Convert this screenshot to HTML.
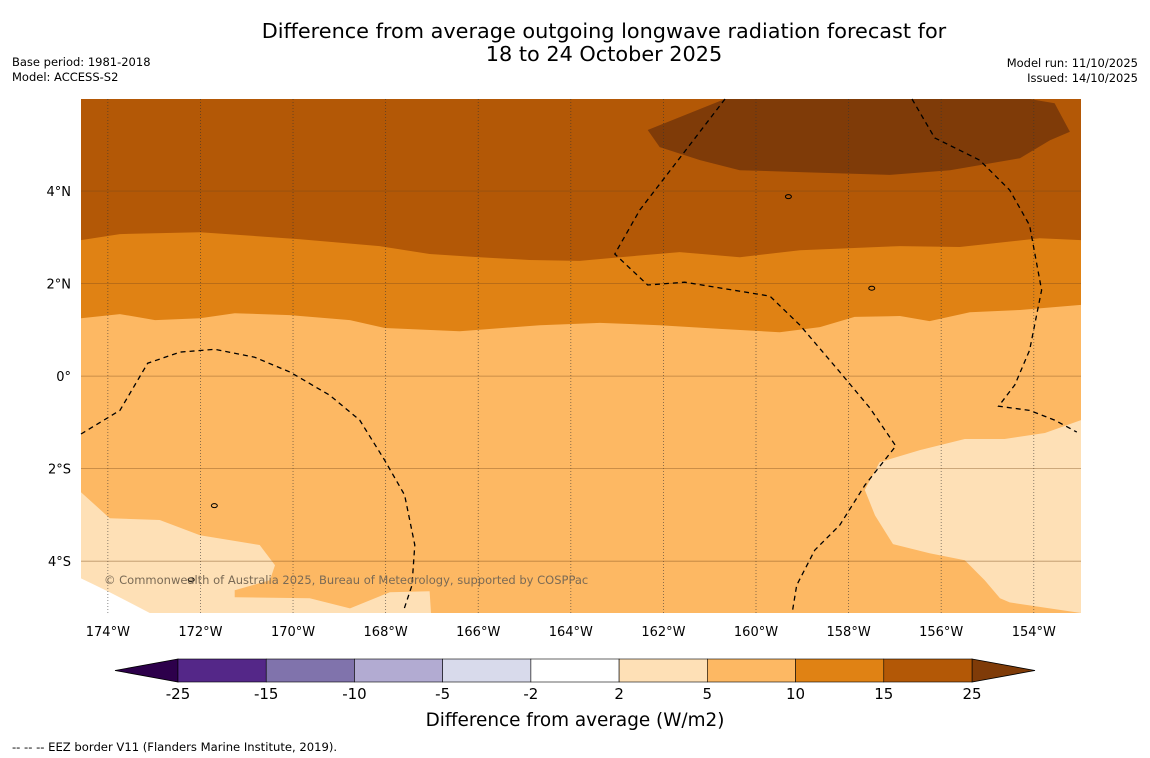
<!DOCTYPE html>
<html><head><meta charset="utf-8"><style>
body{margin:0;background:#fff;}
svg{display:block;font-family:"DejaVu Sans","Liberation Sans",sans-serif;}
</style></head><body>
<svg id="chart" width="1150" height="758" viewBox="0 0 1150 758" xmlns="http://www.w3.org/2000/svg">
<rect width="1150" height="758" fill="#fff"/>
<text x="604" y="38" font-size="20.8" text-anchor="middle" fill="#000">Difference from average outgoing longwave radiation forecast for</text>
<text x="604" y="61" font-size="20.8" text-anchor="middle" fill="#000">18 to 24 October 2025</text>
<text x="12" y="66" font-size="11.5">Base period: 1981-2018</text>
<text x="12" y="81" font-size="11.5">Model: ACCESS-S2</text>
<text x="1138" y="67" font-size="11.5" text-anchor="end">Model run: 11/10/2025</text>
<text x="1138" y="82" font-size="11.5" text-anchor="end">Issued: 14/10/2025</text>
<g id="map"></g>
<g id="cbar"></g>
<text x="575" y="726" font-size="18.4" text-anchor="middle">Difference from average (W/m2)</text>
<text x="12" y="751" font-size="11.6">--  --  -- EEZ border V11 (Flanders Marine Institute, 2019).</text>
</svg>
<script>
const NS="http://www.w3.org/2000/svg";
// Data (lon, lat)
const lonTicks=[-174,-172,-170,-168,-166,-164,-162,-160,-158,-156,-154];
const latTicks=[4,2,0,-2,-4];
const latLabels=["4°N","2°N","0°","2°S","4°S"];
const boundary10=[[-174.58,1.25],[-173.74,1.34],[-172.98,1.21],[-172.01,1.25],[-171.26,1.36],[-170.07,1.32],[-168.77,1.21],[-168.02,1.04],[-166.40,0.97],[-164.67,1.10],[-163.37,1.15],[-162.08,1.10],[-160.78,1.02],[-159.49,0.95],[-158.62,1.06],[-157.87,1.28],[-156.89,1.30],[-156.25,1.19],[-155.38,1.38],[-154.30,1.43],[-152.98,1.54]];
const boundary15=[[-174.58,2.94],[-173.74,3.07],[-172.01,3.11],[-169.85,2.96],[-168.13,2.81],[-167.05,2.64],[-165.97,2.57],[-164.89,2.51],[-163.81,2.49],[-162.94,2.57],[-161.65,2.68],[-160.35,2.57],[-159.05,2.72],[-156.89,2.81],[-155.60,2.79],[-153.87,2.98],[-152.98,2.94]];
const region25=[[-160.67,5.99],[-162.34,5.32],[-162.08,4.95],[-161.21,4.67],[-160.35,4.45],[-159.05,4.41],[-157.11,4.35],[-155.81,4.45],[-154.30,4.71],[-153.65,5.10],[-153.22,5.28],[-153.55,5.90],[-154.09,5.99]];
const regionLeft2=[[-174.58,-2.51],[-173.96,-3.07],[-172.88,-3.11],[-172.01,-3.44],[-170.72,-3.65],[-170.39,-4.09],[-170.50,-4.41],[-171.26,-4.63],[-171.26,-4.78],[-169.64,-4.80],[-168.77,-5.02],[-167.91,-4.67],[-167.05,-4.65],[-167.02,-5.12],[-173.09,-5.12],[-174.58,-4.37]];
const regionWhite=[[-174.58,-4.37],[-173.96,-4.67],[-173.09,-5.12],[-174.58,-5.12]];
const regionRight2=[[-152.98,-0.95],[-153.76,-1.23],[-154.63,-1.36],[-155.49,-1.36],[-156.46,-1.60],[-157.33,-1.86],[-157.65,-2.46],[-157.43,-3.01],[-157.04,-3.63],[-156.25,-3.83],[-155.49,-3.98],[-155.06,-4.41],[-154.73,-4.80],[-154.52,-4.89],[-152.98,-5.12]];
const eez1=[[-174.58,-1.25],[-173.74,-0.74],[-173.14,0.28],[-172.44,0.52],[-171.69,0.58],[-170.83,0.41],[-170.07,0.09],[-169.21,-0.41],[-168.56,-0.95],[-168.02,-1.82],[-167.59,-2.57],[-167.37,-3.65],[-167.43,-4.52],[-167.61,-5.06]];
const eez2=[[-160.67,5.99],[-161.65,4.71],[-162.51,3.59],[-163.05,2.64],[-162.34,1.97],[-161.54,2.03],[-159.70,1.73],[-159.05,1.10],[-158.19,0.09],[-157.54,-0.69],[-156.98,-1.51],[-157.65,-2.36],[-158.19,-3.22],[-158.73,-3.76],[-159.12,-4.52],[-159.21,-5.06]];
const eez3=[[-156.63,5.99],[-156.14,5.15],[-155.17,4.67],[-154.52,4.02],[-154.09,3.26],[-153.83,1.86],[-154.09,0.56],[-154.41,-0.19],[-154.76,-0.65],[-154.09,-0.74],[-153.55,-0.95],[-153.07,-1.21]];
const cbLevels=["-25","-15","-10","-5","-2","2","5","10","15","25"];
const cbColors=["#542788","#8073ac","#b2abd2","#d8daeb","#ffffff","#fee0b6","#fdb863","#e08214","#b35806"];

const X0=81,X1=1081,Y0=99,Y1=613;
const lonMin=-174.58,lonMax=-152.98,latMin=-5.12,latMax=5.99;
const xs=l=>X0+(l-lonMin)/(lonMax-lonMin)*(X1-X0);
const ys=l=>Y0+(latMax-l)/(latMax-latMin)*(Y1-Y0);
const map=document.getElementById('map');
function mk(tag,attrs,parent){const e=document.createElementNS(NS,tag);for(const k in attrs)e.setAttribute(k,attrs[k]);(parent||map).appendChild(e);return e;}
const pts=a=>a.map(p=>xs(p[0]).toFixed(1)+','+ys(p[1]).toFixed(1)).join(' ');

let r=mk('rect',{x:X0,y:Y0,width:X1-X0,height:Y1-Y0,fill:'#fdb863'});

let p=mk('polygon',{points:pts([[lonMin,latMax],...boundary10,[lonMax,latMax]]),fill:'#e08214'});

p=mk('polygon',{points:pts([[lonMin,latMax],...boundary15,[lonMax,latMax]]),fill:'#b35806'});

p=mk('polygon',{points:pts(region25),fill:'#7f3b08'});

p=mk('polygon',{points:pts(regionLeft2),fill:'#fee0b6'});

p=mk('polygon',{points:pts(regionWhite),fill:'#ffffff'});

p=mk('polygon',{points:pts(regionRight2),fill:'#fee0b6'});


lonTicks.forEach(l=>{
  const x=xs(l);
  const g=mk('line',{x1:x,x2:x,y1:Y0,y2:Y1,stroke:'#333','stroke-width':0.8,'stroke-dasharray':'1,2','stroke-opacity':0.7});
  
  const t=mk('text',{x:x,y:Y1+23,'font-size':13,'text-anchor':'middle'});
  t.textContent=Math.abs(l)+'°W';
  
});
latTicks.forEach((l,i)=>{
  const y=ys(l);
  const g=mk('line',{x1:X0,x2:X1,y1:y,y2:y,stroke:'#7a4a1a','stroke-width':0.8,'stroke-opacity':0.5});
  
  const t=mk('text',{x:X0-10,y:y+5,'font-size':13,'text-anchor':'end'});
  t.textContent=latLabels[i];
  
});
[eez1,eez2,eez3].forEach(a=>{
  const l=mk('polyline',{points:pts(a),fill:'none',stroke:'#000','stroke-width':1.3,'stroke-dasharray':'5,4'});
  
});
[[-157.5,1.9],[-159.3,3.88],[-171.7,-2.8],[-172.2,-4.4]].forEach(c=>{
  const e=mk('ellipse',{cx:xs(c[0]),cy:ys(c[1]),rx:3,ry:2,fill:'none',stroke:'#000','stroke-width':1});
  
});
let ct=mk('text',{x:104,y:584,'font-size':11.5,fill:'#7a6a55'});
ct.textContent='© Commonwealth of Australia 2025, Bureau of Meteorology, supported by COSPPac';


// colorbar
const cb=document.getElementById('cbar');
const cbX0=178,cbX1=972,cbY=659,cbH=23,w=(cbX1-cbX0)/cbColors.length;
let tri=mk('polygon',{points:`${cbX0},${cbY} 115,${cbY+cbH/2} ${cbX0},${cbY+cbH}`,fill:'#2d004b',stroke:'#000','stroke-width':0.8},cb);

tri=mk('polygon',{points:`${cbX1},${cbY} 1035,${cbY+cbH/2} ${cbX1},${cbY+cbH}`,fill:'#7f3b08',stroke:'#000','stroke-width':0.8},cb);

cbColors.forEach((c,i)=>{
  const b=mk('rect',{x:cbX0+i*w,y:cbY,width:w,height:cbH,fill:c,stroke:'#000','stroke-width':0.6},cb);
  
});
cbLevels.forEach((v,i)=>{
  const t=mk('text',{x:cbX0+i*w,y:699,'font-size':15,'text-anchor':'middle'},cb);
  t.textContent=v;
  
});
</script>
</body></html>
